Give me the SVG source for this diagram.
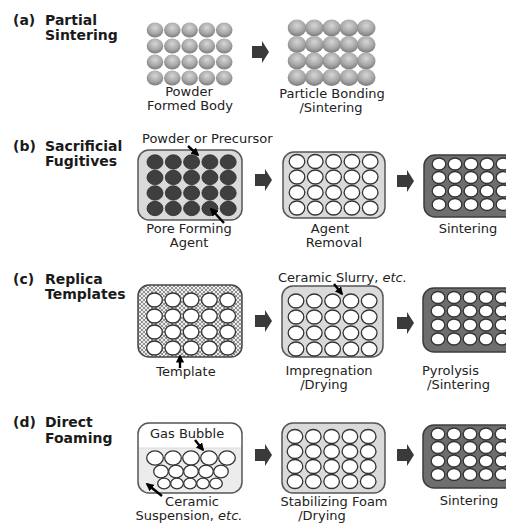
<svg xmlns="http://www.w3.org/2000/svg" xmlns:xlink="http://www.w3.org/1999/xlink" width="506" height="525" viewBox="0 0 506 525">
<style>
.t{font-family:"DejaVu Sans",Verdana,sans-serif;font-size:13px;fill:#222}
.h{font-family:"DejaVu Sans",Verdana,sans-serif;font-size:14px;font-weight:bold;fill:#1a1a1a}
.lt{fill:#dadada;stroke:#555;stroke-width:1.5}
.dk{fill:#6e6e6e;stroke:#3c3c3c;stroke-width:1.5}
.op{fill:#fff;stroke:#333;stroke-width:1.3}
.dc{fill:#3f3f3f;stroke:#2a2a2a;stroke-width:0.8}
.ptr{stroke:#000;stroke-width:2.4;fill:none;marker-end:url(#ah)}
</style>
<defs>
<radialGradient id="sph" cx="50%" cy="35%" r="65%">
<stop offset="0" stop-color="#d6d6d6"/>
<stop offset="0.6" stop-color="#a8a8a8"/>
<stop offset="1" stop-color="#7a7a7a"/>
</radialGradient>
<pattern id="hatch" width="4" height="4" patternUnits="userSpaceOnUse">
<rect width="4" height="4" fill="#ededed"/>
<path d="M0,0 L4,4 M4,0 L0,4" stroke="#6a6a6a" stroke-width="0.7"/>
</pattern>
<marker id="ah" viewBox="0 0 10 10" refX="8" refY="5" markerWidth="3.4" markerHeight="3.4" orient="auto">
<path d="M0,0 L10,5 L0,10 Z" fill="#000"/>
</marker>
<path id="blk" d="M0,-6 H10 V-11 L17,0 L10,11 V6 H0 Z" fill="#3a3a3a"/>
<g id="rowP"><ellipse cx="0" cy="0" rx="8.3" ry="7.6" fill="url(#sph)"/><ellipse cx="17.3" cy="0" rx="8.3" ry="7.6" fill="url(#sph)"/><ellipse cx="34.6" cy="0" rx="8.3" ry="7.6" fill="url(#sph)"/><ellipse cx="51.9" cy="0" rx="8.3" ry="7.6" fill="url(#sph)"/><ellipse cx="69.2" cy="0" rx="8.3" ry="7.6" fill="url(#sph)"/></g>
<g id="rowQ"><ellipse cx="0" cy="0" rx="9.3" ry="8.4" fill="url(#sph)"/><ellipse cx="17.3" cy="0" rx="9.3" ry="8.4" fill="url(#sph)"/><ellipse cx="34.6" cy="0" rx="9.3" ry="8.4" fill="url(#sph)"/><ellipse cx="51.9" cy="0" rx="9.3" ry="8.4" fill="url(#sph)"/><ellipse cx="69.2" cy="0" rx="9.3" ry="8.4" fill="url(#sph)"/></g>
<g id="rowD"><ellipse class="dc" cx="0" cy="0" rx="8" ry="7.2"/><ellipse class="dc" cx="18.3" cy="0" rx="8" ry="7.2"/><ellipse class="dc" cx="36.6" cy="0" rx="8" ry="7.2"/><ellipse class="dc" cx="54.9" cy="0" rx="8" ry="7.2"/><ellipse class="dc" cx="73.2" cy="0" rx="8" ry="7.2"/></g>
<g id="rowO"><ellipse class="op" cx="0" cy="0" rx="7.8" ry="7"/><ellipse class="op" cx="18.3" cy="0" rx="7.8" ry="7"/><ellipse class="op" cx="36.6" cy="0" rx="7.8" ry="7"/><ellipse class="op" cx="54.9" cy="0" rx="7.8" ry="7"/><ellipse class="op" cx="73.2" cy="0" rx="7.8" ry="7"/></g>
<g id="rowS"><ellipse class="op" cx="0" cy="0" rx="6.8" ry="6"/><ellipse class="op" cx="16" cy="0" rx="6.8" ry="6"/><ellipse class="op" cx="32" cy="0" rx="6.8" ry="6"/><ellipse class="op" cx="48" cy="0" rx="6.8" ry="6"/><ellipse class="op" cx="64" cy="0" rx="6.8" ry="6"/></g>
</defs>
<rect width="506" height="525" fill="#fff"/>

<!-- titles -->
<g id="title-a"><text class="h" x="13" y="25">(a)</text><text class="h" x="45" y="25">Partial</text><text class="h" x="45" y="40">Sintering</text></g>
<g id="title-b"><text class="h" x="13" y="151">(b)</text><text class="h" x="45" y="151">Sacrificial</text><text class="h" x="45" y="166">Fugitives</text></g>
<g id="title-c"><text class="h" x="13" y="284">(c)</text><text class="h" x="45" y="284">Replica</text><text class="h" x="45" y="299">Templates</text></g>
<g id="title-d"><text class="h" x="13" y="427">(d)</text><text class="h" x="45" y="427">Direct</text><text class="h" x="45" y="443">Foaming</text></g>

<!-- (a) -->
<g id="a-powder">
<use href="#rowP" x="155" y="30"/><use href="#rowP" x="155" y="46"/><use href="#rowP" x="155" y="62"/><use href="#rowP" x="155" y="78"/>
<text class="t" x="189" y="96" text-anchor="middle">Powder</text>
<text class="t" x="190" y="110" text-anchor="middle">Formed Body</text>
</g>
<g id="a-bonded">
<use href="#rowQ" x="297" y="28"/><use href="#rowQ" x="297" y="44.5"/><use href="#rowQ" x="297" y="61"/><use href="#rowQ" x="297" y="77.5"/>
<text class="t" x="332" y="98" text-anchor="middle">Particle Bonding</text>
<text class="t" x="331" y="112" text-anchor="middle">/Sintering</text>
</g>

<!-- (b) -->
<g id="b-mix">
<rect class="lt" x="138" y="150" width="104" height="70" rx="11"/>
<use href="#rowD" x="155" y="162"/><use href="#rowD" x="155" y="177.5"/><use href="#rowD" x="155" y="193"/><use href="#rowD" x="155" y="208.5"/>
<text class="t" x="142" y="143">Powder or Precursor</text>
<text class="t" x="189" y="233" text-anchor="middle">Pore Forming</text>
<text class="t" x="189" y="247" text-anchor="middle">Agent</text>
</g>
<g id="b-removed">
<rect class="lt" x="283" y="152" width="102" height="66" rx="11"/>
<use href="#rowO" x="297" y="161.5"/><use href="#rowO" x="297" y="177"/><use href="#rowO" x="297" y="192.5"/><use href="#rowO" x="297" y="208"/>
<text class="t" x="330" y="233" text-anchor="middle">Agent</text>
<text class="t" x="334" y="247" text-anchor="middle">Removal</text>
</g>
<g id="b-sintered">
<rect class="dk" x="424" y="155" width="100" height="62" rx="11"/>
<use href="#rowS" x="439" y="164"/><use href="#rowS" x="439" y="177.5"/><use href="#rowS" x="439" y="191"/><use href="#rowS" x="439" y="204.5"/>
<text class="t" x="468" y="233" text-anchor="middle">Sintering</text>
</g>

<!-- (c) -->
<g id="c-template">
<rect x="138" y="285" width="104" height="72" rx="11" fill="url(#hatch)" stroke="#444" stroke-width="1.5"/>
<use href="#rowO" x="154.5" y="300"/><use href="#rowO" x="154.5" y="316"/><use href="#rowO" x="154.5" y="332"/><use href="#rowO" x="154.5" y="348"/>
<text class="t" x="186" y="376" text-anchor="middle">Template</text>
</g>
<g id="c-impregnated">
<rect class="lt" x="282" y="286" width="101" height="71" rx="11"/>
<use href="#rowO" x="296" y="301"/><use href="#rowO" x="296" y="317"/><use href="#rowO" x="296" y="333"/><use href="#rowO" x="296" y="349"/>
<text class="t" x="278" y="282">Ceramic Slurry, <tspan font-style="italic">etc.</tspan></text>
<text class="t" x="329" y="375" text-anchor="middle">Impregnation</text>
<text class="t" x="324" y="389" text-anchor="middle">/Drying</text>
</g>
<g id="c-sintered">
<rect class="dk" x="423" y="288" width="100" height="64" rx="11"/>
<use href="#rowS" x="438" y="297.5"/><use href="#rowS" x="438" y="311"/><use href="#rowS" x="438" y="325"/><use href="#rowS" x="438" y="339"/>
<text class="t" x="422" y="375">Pyrolysis</text>
<text class="t" x="427" y="389">/Sintering</text>
</g>

<!-- (d) -->
<g id="d-suspension">
<rect x="138" y="423" width="104" height="70" rx="11" fill="#ececec"/>
<path d="M138,448 V434 Q138,423 149,423 H231 Q242,423 242,434 V448 Z" fill="#fff"/>
<line x1="138" y1="448" x2="242" y2="448" stroke="#d4d4d4" stroke-width="0.8"/>
<rect x="138" y="423" width="104" height="70" rx="11" fill="none" stroke="#555" stroke-width="1.5"/>
<ellipse class="op" cx="155" cy="458" rx="8.3" ry="7.2"/><ellipse class="op" cx="173" cy="458" rx="8.3" ry="7.2"/><ellipse class="op" cx="191" cy="458" rx="8.3" ry="7.2"/><ellipse class="op" cx="209" cy="458" rx="8.3" ry="7.2"/><ellipse class="op" cx="227" cy="458" rx="8.3" ry="7.2"/>
<ellipse class="op" cx="161" cy="471.5" rx="7.3" ry="6.3"/><ellipse class="op" cx="176" cy="471.5" rx="7.3" ry="6.3"/><ellipse class="op" cx="191" cy="471.5" rx="7.3" ry="6.3"/><ellipse class="op" cx="206" cy="471.5" rx="7.3" ry="6.3"/><ellipse class="op" cx="221" cy="471.5" rx="7.3" ry="6.3"/>
<ellipse class="op" cx="164" cy="483.5" rx="6.3" ry="5.3"/><ellipse class="op" cx="177" cy="483.5" rx="6.3" ry="5.3"/><ellipse class="op" cx="190" cy="483.5" rx="6.3" ry="5.3"/><ellipse class="op" cx="203" cy="483.5" rx="6.3" ry="5.3"/><ellipse class="op" cx="216" cy="483.5" rx="6.3" ry="5.3"/>
<text class="t" x="150" y="438">Gas Bubble</text>
<text class="t" x="192" y="506" text-anchor="middle">Ceramic</text>
<text class="t" x="189" y="520" text-anchor="middle">Suspension, <tspan font-style="italic">etc.</tspan></text>
</g>
<g id="d-foam">
<rect class="lt" x="282" y="423" width="103" height="70" rx="11"/>
<use href="#rowO" x="295" y="436.5"/><use href="#rowO" x="295" y="451.5"/><use href="#rowO" x="295" y="466.5"/><use href="#rowO" x="295" y="481.5"/>
<text class="t" x="334" y="506" text-anchor="middle">Stabilizing Foam</text>
<text class="t" x="322" y="520" text-anchor="middle">/Drying</text>
</g>
<g id="d-sintered">
<rect class="dk" x="423" y="425" width="100" height="63" rx="11"/>
<use href="#rowS" x="438" y="434"/><use href="#rowS" x="438" y="447.5"/><use href="#rowS" x="438" y="461"/><use href="#rowS" x="438" y="474.5"/>
<text class="t" x="469" y="505" text-anchor="middle">Sintering</text>
</g>

<!-- connectors -->
<g id="connectors">
<use href="#blk" x="252" y="52"/>
<use href="#blk" x="255" y="180"/>
<use href="#blk" x="397" y="181"/>
<use href="#blk" x="255" y="321"/>
<use href="#blk" x="397" y="323"/>
<use href="#blk" x="255" y="455"/>
<use href="#blk" x="397" y="455"/>
<line class="ptr" x1="188" y1="146" x2="198" y2="155"/>
<line class="ptr" x1="224" y1="223" x2="211" y2="209"/>
<line class="ptr" x1="334" y1="284" x2="342" y2="294"/>
<line class="ptr" x1="180" y1="368" x2="180" y2="356"/>
<line class="ptr" x1="195" y1="440" x2="203" y2="450"/>
<line class="ptr" x1="162" y1="496" x2="147" y2="484"/>
</g>
</svg>
